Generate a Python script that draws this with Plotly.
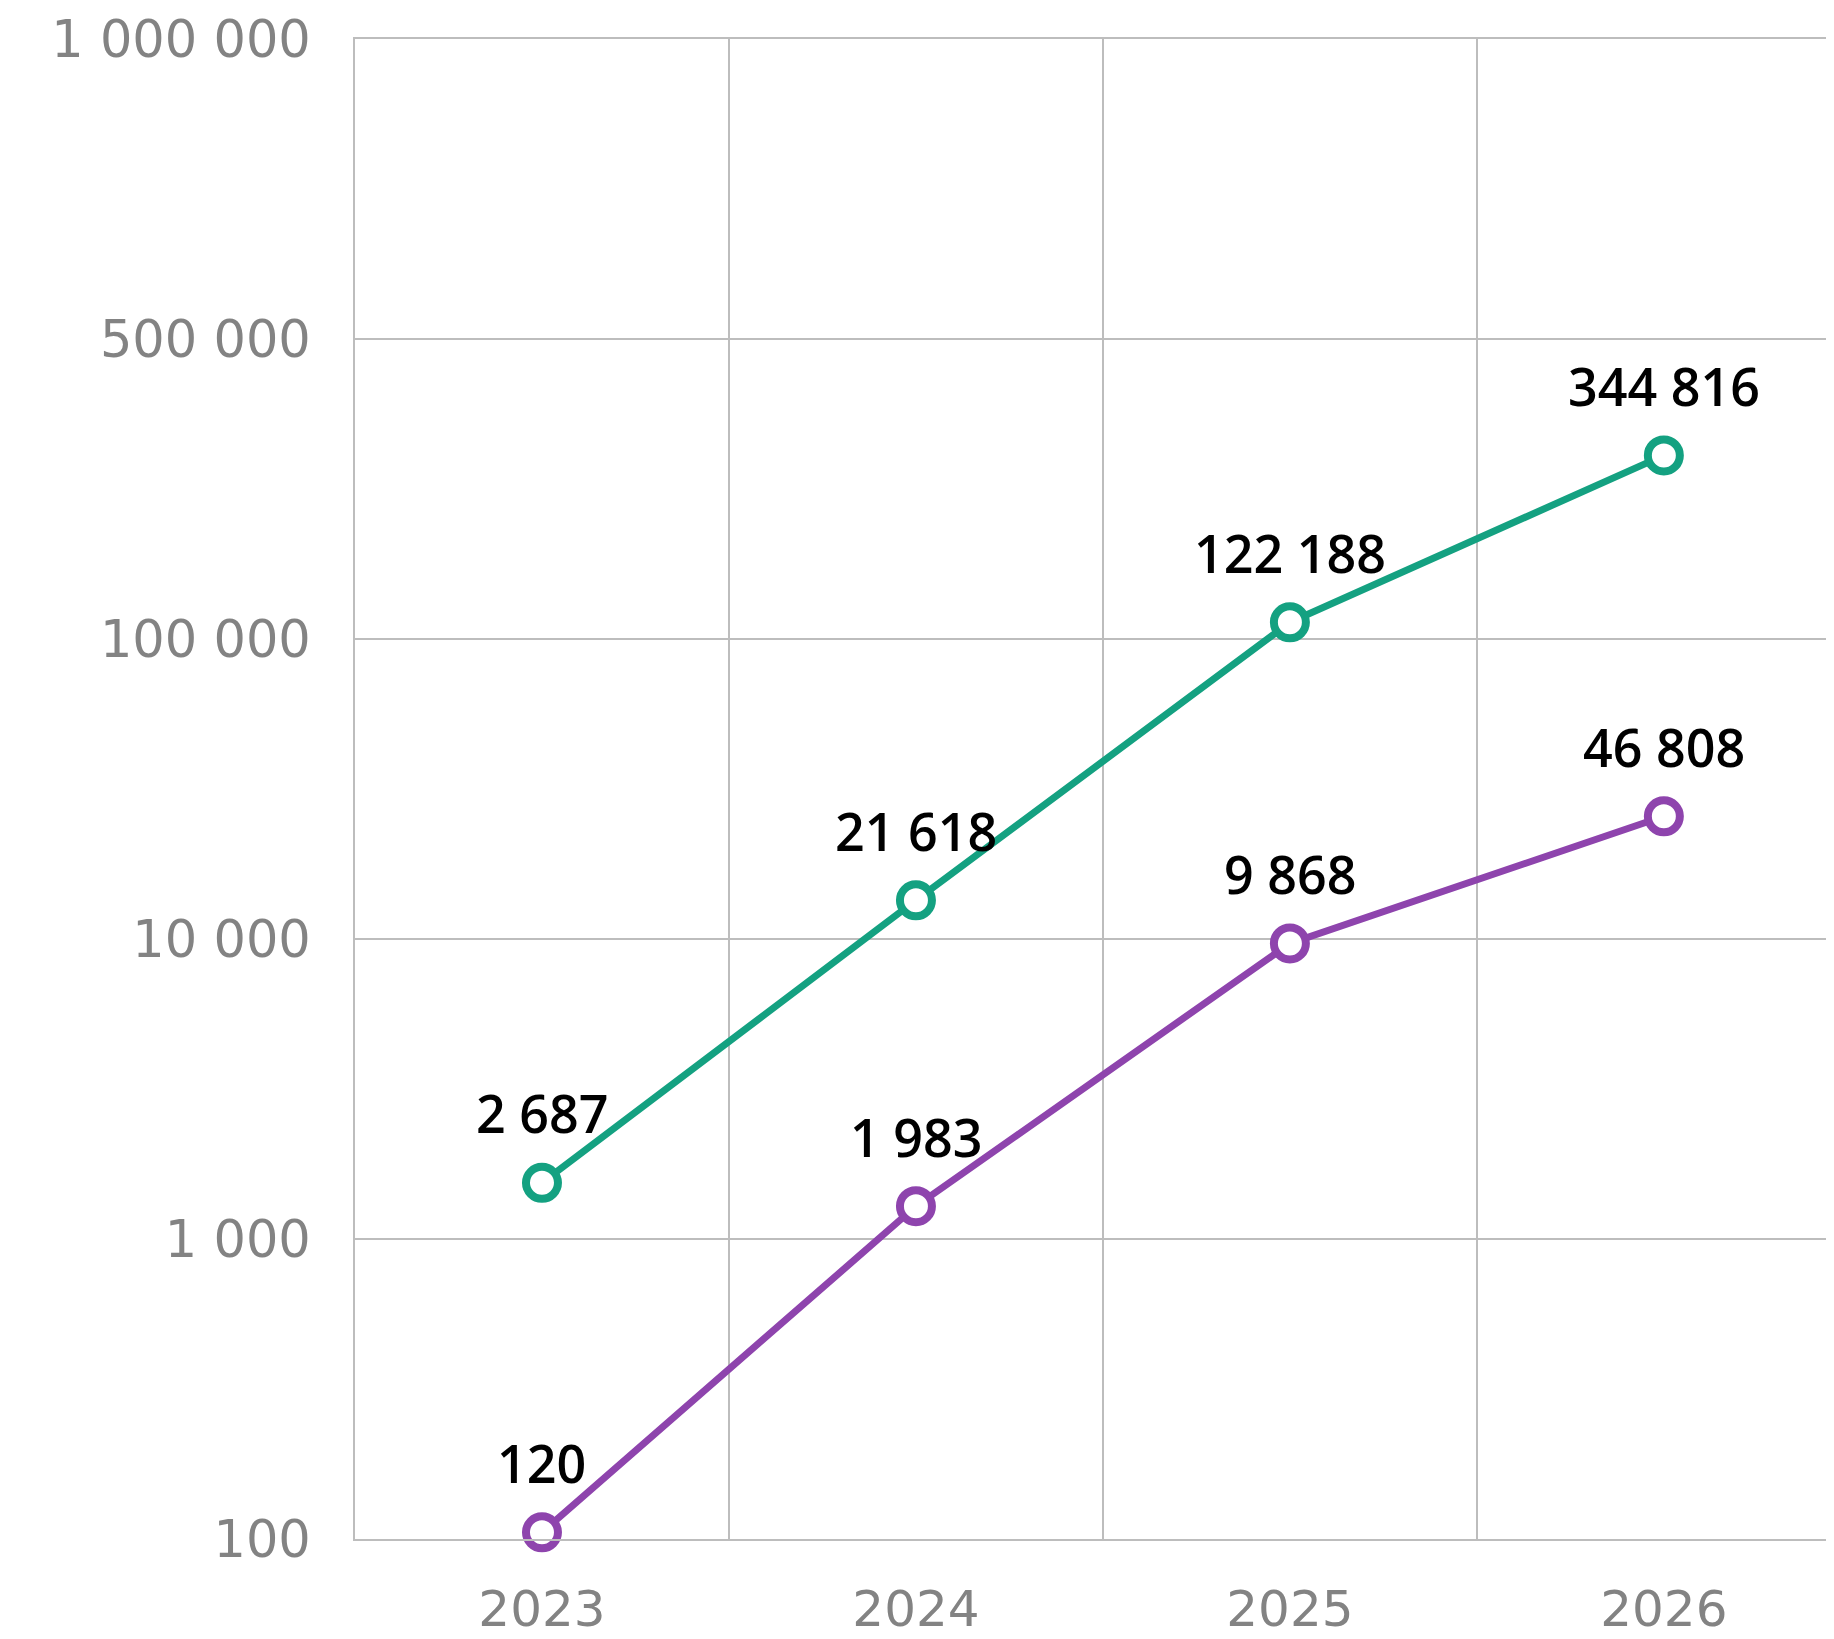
import numpy as np
import plotly.graph_objects as go

years = ["2023", "2024", "2025", "2026"]
green_values = [2687, 21618, 122188, 344816]
purple_values = [120, 1983, 9868, 46808]
tick_values = [100, 1000, 10000, 100000, 500000, 1000000]
tick_labels = ["100", "1 000", "10 000", "100 000", "500 000", "1 000 000"]

GREEN = "#14A181"
PURPLE = "#8E44AD"
GRID = "#BDBDBD"
TICK = "#838383"
TICK_FONT = "DejaVu Sans"
LABEL_FONT = "Open Sans"

# Axis with evenly spaced tick values (piecewise-linear between ticks)
tick_pos = np.arange(len(tick_values), dtype=float)


def to_axis(vals):
    return np.interp(np.asarray(vals, dtype=float), tick_values, tick_pos)


def fmt(v):
    return f"{v:,}".replace(",", " ")


fig = go.Figure()
for vals, col in [(green_values, GREEN), (purple_values, PURPLE)]:
    fig.add_trace(go.Scatter(
        x=years, y=to_axis(vals), mode="lines+markers",
        line=dict(color=col, width=7),
        marker=dict(size=32, color="white", line=dict(color=col, width=8)),
        hoverinfo="skip", showlegend=False, cliponaxis=False,
    ))
    for i, (v, p) in enumerate(zip(vals, to_axis(vals))):
        fig.add_annotation(
            x=i, y=p, xref="x", yref="y", text=fmt(v), showarrow=False,
            yanchor="middle", xanchor="center", yshift=70,
            font=dict(family=LABEL_FONT, size=52, color="#000000", weight=600),
        )

fig.update_xaxes(
    type="category", range=[-0.5, 3.455], tickson="boundaries",
    showgrid=True, gridcolor=GRID, gridwidth=2,
    showline=True, mirror=True, linecolor=GRID, linewidth=2,
    ticks="", ticklabelstandoff=25, automargin=False,
    tickfont=dict(family=TICK_FONT, size=50, color=TICK),
)
fig.update_yaxes(
    range=[0, 5], tickvals=tick_pos, ticktext=tick_labels,
    showgrid=True, gridcolor=GRID, gridwidth=2, zeroline=False,
    showline=True, linecolor=GRID, linewidth=2,
    ticks="", ticklabelstandoff=32, automargin=False,
    tickfont=dict(family=TICK_FONT, size=51, color=TICK),
)
fig.update_layout(
    width=1826, height=1631,
    margin=dict(l=347, r=0, t=31, b=100),
    plot_bgcolor="white", paper_bgcolor="white",
)
fig.write_html("out.html")
